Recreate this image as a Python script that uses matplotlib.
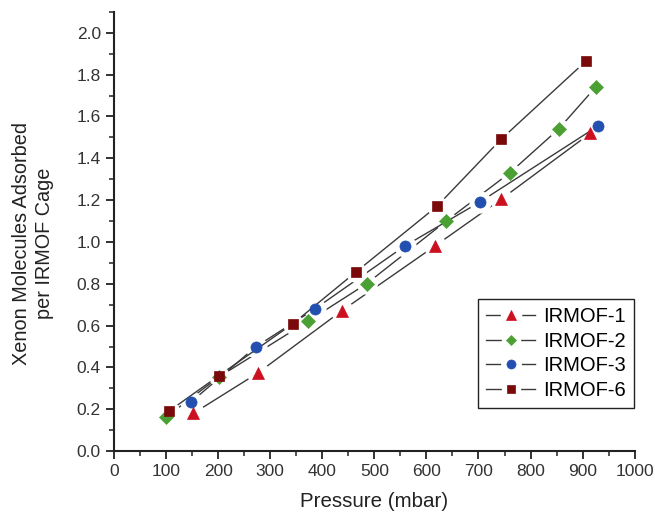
import numpy as np
import matplotlib
matplotlib.use("Agg")
import matplotlib.pyplot as plt
from matplotlib.ticker import MultipleLocator
from matplotlib.lines import Line2D
from matplotlib.legend_handler import HandlerTuple

plt.rcParams['font.family'] = ['Liberation Sans', 'DejaVu Sans']

# pressure (mbar) and xenon per cage
p1 = [152, 276, 437, 616, 744, 915]
x1 = [0.18, 0.373, 0.67, 0.98, 1.205, 1.52]
p2 = [100, 201, 372, 485, 638, 760, 854, 925]
x2 = [0.163, 0.354, 0.62, 0.80, 1.10, 1.33, 1.54, 1.74]
p3 = [148, 273, 386, 558, 702, 930]
x3 = [0.235, 0.50, 0.68, 0.98, 1.19, 1.555]
p6 = [105, 201, 344, 464, 620, 743, 907]
x6 = [0.19, 0.36, 0.61, 0.855, 1.17, 1.49, 1.866]

names = ['IRMOF-1', 'IRMOF-2', 'IRMOF-3', 'IRMOF-6']
colors = ['#cc1020', '#4aa032', '#2350b0', '#7a0a0a']
markers = ['^', 'D', 'o', 's']
sizes = [8.5, 7, 8, 7]
line_col = '#3a3a3a'

fig = plt.figure(figsize=(6.55, 5.15), dpi=100)
ax = fig.add_axes([0.174, 0.124, 0.795, 0.853])

handles = []
series = [(p1, x1), (p2, x2), (p3, x3), (p6, x6)]
for (p, x), name, c, m, s in zip(series, names, colors, markers, sizes):
    # line with a white halo round each point, so the line breaks at the symbol
    ax.plot(p, x, color=line_col, lw=1.0, marker='o', ms=s + 8,
            mfc='white', mec='white', mew=0, zorder=2)
    ax.plot(p, x, ls='none', marker=m, ms=s, mfc=c, mec=c, mew=0.5, zorder=3)
    # smaller proxies for the legend key
    l1 = Line2D([], [], color=line_col, lw=1.0, marker='o', ms=s + 7,
                mfc='white', mec='white', mew=0)
    l2 = Line2D([], [], ls='none', marker=m, ms=s - 1.5, mfc=c, mec=c, mew=0.5)
    handles.append((l1, l2))

ax.set_xlim(0, 1000)
ax.set_ylim(0, 2.1)
ax.xaxis.set_major_locator(MultipleLocator(100))
ax.xaxis.set_minor_locator(MultipleLocator(50))
ax.yaxis.set_major_locator(MultipleLocator(0.2))
ax.yaxis.set_minor_locator(MultipleLocator(0.1))
ax.yaxis.set_major_formatter(matplotlib.ticker.FormatStrFormatter('%.1f'))

for side in ['top', 'right']:
    ax.spines[side].set_visible(False)
for side in ['left', 'bottom']:
    ax.spines[side].set_linewidth(1.5)
    ax.spines[side].set_color('#222222')
ax.tick_params(which='major', direction='out', length=6, width=1.3,
               labelsize=12.5, color='#222222', labelcolor='#333333')
ax.tick_params(which='minor', direction='out', length=3.5, width=1.1, color='#222222')

ax.set_xlabel('Pressure (mbar)', fontsize=14.8, color='#222222', labelpad=9)
# two-line y label, centred line by line
fig.text(33 / 655, 1 - 243 / 515, 'Xenon Molecules Adsorbed\nper IRMOF Cage',
         rotation=90, ha='center', va='center', multialignment='center',
         fontsize=14.3, color='#222222', linespacing=1.3)

leg = ax.legend(handles, names, handler_map={tuple: HandlerTuple(ndivide=1)},
                numpoints=1, loc='lower right', bbox_to_anchor=(0.998, 0.098),
                borderaxespad=0, fontsize=14.5, handlelength=2.4,
                fancybox=False, framealpha=1, edgecolor='#222222',
                borderpad=0.4, labelspacing=0.28, handletextpad=0.4)
leg.get_frame().set_linewidth(1.0)

fig.savefig('out.png', dpi=100)
